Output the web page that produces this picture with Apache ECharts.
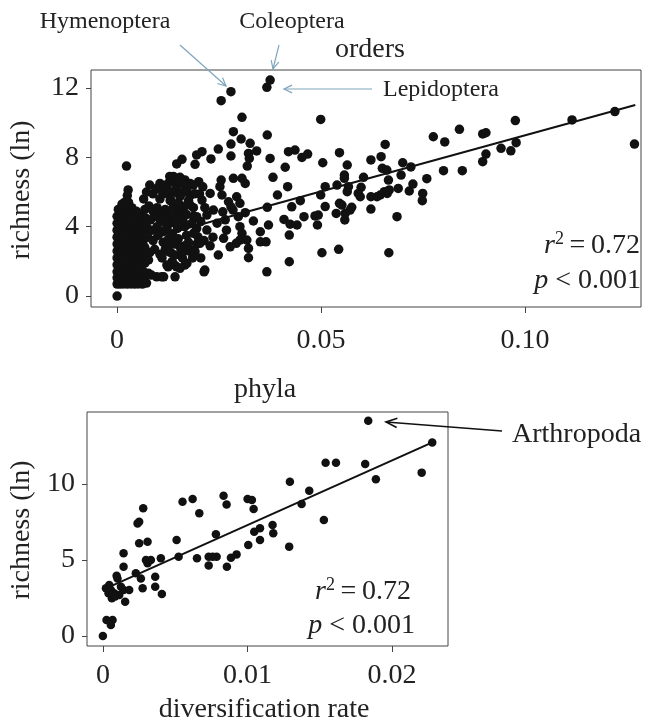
<!DOCTYPE html>
<html><head><meta charset="utf-8">
<script src="https://cdn.jsdelivr.net/npm/echarts@6/dist/echarts.min.js"></script>
<style>html,body{margin:0;padding:0;background:#fff}#c{width:653px;height:725px}</style>
</head><body><div id="c"></div>
<script>
// ---------- DATA ----------
const ordersTicksX = [0, 0.05, 0.10];
const ordersTicksY = [0, 4, 8, 12];
const phylaTicksX = [0, 0.01, 0.02];
const phylaTicksY = [0, 5, 10];

// orders: diversification rate vs richness (ln)
const ordersDense = [
 [0,0.69],[0.0008,0.69],[0.0016,0.7],[0.0025,0.69],[0.0034,0.7],[0.0043,0.69],[0.0052,0.7],[0.0062,0.69],
 [0,1.05],[0.0011,1.1],[0.0021,1.0],[0.0031,1.1],[0.0045,1.05],[0.0058,1.0],
 [0,1.4],[0.001,1.45],[0.002,1.38],[0.0032,1.5],[0.0042,1.4],[0.0055,1.35],
 [0,1.8],[0.0009,1.85],[0.0022,1.79],[0.0033,1.9],[0.0046,1.8],
 [0,2.2],[0.0012,2.2],[0.0024,2.3],[0.0036,2.15],[0.0048,2.25],[0.006,2.2],
 [0,2.6],[0.001,2.65],[0.0021,2.56],[0.0034,2.7],[0.0047,2.6],[0.0061,2.55],
 [0,3.0],[0.0011,3.05],[0.0023,2.95],[0.0035,3.1],[0.0049,3.0],[0.0063,3.05],
 [0,3.4],[0.0012,3.45],[0.0024,3.35],[0.0037,3.45],[0.005,3.4],[0.0064,3.3],
 [0,3.8],[0.001,3.85],[0.0022,3.75],[0.0034,3.9],[0.0047,3.8],[0.006,3.7],
 [0,4.2],[0.0011,4.25],[0.0023,4.15],[0.0036,4.2],[0.005,4.3],
 [0,4.6],[0.0012,4.65],[0.0024,4.55],[0.0037,4.6],
 [0.0003,5.0],[0.0014,5.05],[0.0027,4.95],
 [0.0018,5.4],[0.0025,5.8],[0.0027,6.12],[0.0023,7.5],[0,0],
 [0.0055,1.7],[0.0065,1.4],[0.0058,1.9],[0.0068,1.9],[0.0057,2.4],[0.0066,2.5],[0.0042,2.0],[0.0044,2.45],[0.0045,2.85],[0.0058,2.8],
 [0.0043,3.2],[0.0057,3.2],[0.0044,3.6],[0.0056,3.6],[0.0045,4.0],[0.0058,4.0],[0.0044,4.45],[0.0058,4.6],[0.0047,4.9],[0.0036,5.1],
 [0.0012,5.3],[0.0028,5.4],[0.0067,1.1],[0.0072,0.75],[0.0068,4.3],[0.0066,3.65]
];
const ordersNear = [
 [0.0065,5.6],[0.0072,6.0],[0.008,6.4],[0.0088,5.9],[0.0097,6.2],[0.0105,5.6],[0.0114,6.3],[0.0122,6.2],[0.013,5.5],[0.0129,6.9],[0.0138,6.0],[0.0145,6.5],[0.0152,5.9],
 [0.0068,5.0],[0.0078,5.2],[0.0088,4.9],[0.0098,5.1],[0.0108,4.8],[0.0118,5.0],[0.0128,4.7],[0.0138,5.1],[0.0148,4.8],
 [0.007,4.5],[0.0082,4.4],[0.0094,4.6],[0.0106,4.3],[0.0118,4.4],[0.013,4.2],[0.0142,4.4],
 [0.0072,4.0],[0.0085,3.8],[0.0098,4.0],[0.011,3.7],[0.0122,3.9],[0.0135,3.6],[0.0148,3.9],
 [0.0075,3.4],[0.0088,3.2],[0.01,3.5],[0.0113,3.1],[0.0126,3.3],[0.014,3.0],
 [0.0068,2.8],[0.008,2.5],[0.0077,2.08],[0.0092,2.7],[0.0105,2.4],[0.0118,2.7],[0.0132,2.5],[0.0158,2.46],[0.0182,2.65],[0.0166,2.9],
 [0.0077,1.31],[0.0084,1.21],[0.0097,1.11],[0.0109,1.11],[0.0125,1.69],[0.0141,1.79],[0.0146,1.69],[0.0166,1.79],[0.0215,1.5],[0.006,2.27],[0.0051,1.7],
 [0.0105,6.5],[0.013,6.6],[0.0138,6.9],[0.0154,6.85],[0.0166,6.7],[0.0179,6.5],[0.013,5.73],[0.0154,5.73],[0.0179,5.8],[0.0138,4.96],[0.0162,4.96],[0.0187,5.1],
 [0.0117,4.3],[0.0142,4.2],[0.0162,4.3],[0.0187,4.6],[0.0125,3.0],[0.015,3.3],[0.017,3.5],[0.0195,3.0],[0.0213,3.2],[0.0228,2.9],[0.011,2.2],[0.0135,2.0],[0.016,2.2],[0.0175,2.6],[0.0205,2.2],[0.0198,3.42],
 [0.0112,5.9],[0.0125,6.5],[0.0145,6.2],[0.0165,6.4],[0.0175,5.5],[0.019,5.9],[0.02,6.6],[0.021,6.3],[0.0158,5.2],[0.017,4.7],
 [0.0205,4.3],[0.0215,5.1],[0.0195,3.9],[0.0175,3.1],[0.016,2.6],[0.0185,2.2],[0.0235,3.4],[0.0245,4.2],[0.0265,4.4],[0.0268,3.8]
];
const ordersMid = [
 [0.0375,12.46],[0.0367,12.04],[0.0279,11.79],[0.0255,11.27],[0.0306,10.31],[0.0285,9.48],[0.0304,9.06],[0.0279,8.77],[0.0326,8.81],[0.0368,9.29],
 [0.0342,8.37],[0.0322,8.23],[0.0324,7.94],[0.0319,7.50],[0.0279,8.08],[0.0248,8.48],[0.0208,8.33],[0.0195,8.14],[0.0230,7.91],[0.0191,7.60],[0.0159,7.89],[0.0146,7.62],
 [0.0420,8.33],[0.0436,8.42],[0.0375,7.94],[0.0412,7.43],[0.0382,6.85],[0.0418,6.31],[0.0393,5.83],[0.0428,5.15],[0.0449,5.50],[0.0409,4.42],[0.0424,4.15],[0.0441,4.10],
 [0.0422,3.52],[0.0422,1.98],[0.0367,1.40],[0.0322,2.21],[0.0368,5.12],[0.0371,4.10],[0.0351,3.71],[0.0351,3.13],[0.0365,3.13],[0.0334,4.33],[0.0314,4.81],[0.0301,4.00],
 [0.0306,3.62],[0.0301,3.23],[0.0318,3.23],[0.0322,2.75],[0.0292,3.04],[0.0277,2.84],[0.0261,3.33],[0.0248,2.37],[0.0297,4.58],[0.0284,4.96],[0.0273,5.44],[0.0279,5.15],
 [0.0301,5.35],[0.0293,5.73],[0.0285,6.79],[0.0306,6.79],[0.0314,6.50],[0.0255,6.69],[0.0252,6.31],[0.0257,5.83],[0.0259,4.86],[0.0236,4.96],[0.0220,4.67],[0.0228,5.92],
 [0.0208,5.54],[0.0202,5.89],[0.0187,6.40],[0.0171,6.12],[0.0159,5.92],[0.0146,6.69],[0.0122,6.21],[0.0134,5.44],[0.0150,5.35],[0.0179,5.25],[0.0195,4.58],[0.0183,4.20],
 [0.0187,3.62],[0.0203,3.04],[0.0191,2.56],[0.0154,2.84],[0.0142,2.37],[0.0171,1.89],[0.0154,1.60],[0.0142,1.11],[0.0213,1.40],[0.0114,1.11],[0.0122,1.79],[0.0126,2.56],
 [0.0138,3.42],[0.0118,3.81],[0.0114,4.58],[0.0154,4.58],[0.0166,4.00],[0.0220,3.81]
];
const ordersRight = [
 [0.0499,10.19],[0.1268,8.77],[0.1220,10.64],[0.1115,10.16],[0.0976,10.12],[0.0978,8.85],[0.0965,8.38],[0.0941,8.52],[0.0904,8.19],[0.0896,7.75],
 [0.0896,9.35],[0.0904,9.42],[0.0839,9.62],[0.0803,8.89],[0.0775,9.19],[0.0846,7.23],[0.0800,7.23],[0.0759,6.77],[0.0749,5.92],[0.0748,5.50],
 [0.0720,7.45],[0.0700,7.69],[0.0696,6.98],[0.0689,6.21],[0.0686,4.58],[0.0716,6.06],[0.0725,6.46],[0.0666,2.50],[0.0665,6.69],[0.0667,6.12],
 [0.0657,8.75],[0.0647,8.04],[0.0650,7.37],[0.0661,7.27],[0.0662,5.92],[0.0655,6.02],[0.0645,5.83],[0.0637,5.73],[0.0622,7.85],[0.0622,5.73],
 [0.0622,5.02],[0.0604,6.85],[0.0598,6.27],[0.0591,5.92],[0.0596,5.73],[0.0571,4.96],[0.0575,5.12],[0.0558,4.39],[0.0559,4.77],[0.0545,5.35],
 [0.0551,5.25],[0.0537,4.77],[0.0564,6.02],[0.0567,6.31],[0.0557,6.98],[0.0557,6.79],[0.0564,7.56],[0.0545,8.27],[0.0539,6.40],[0.0510,6.31],
 [0.0510,5.16],[0.0493,4.67],[0.0485,4.62],[0.0491,4.10],[0.0499,5.83],[0.0504,7.69],[0.0502,2.50],[0.0543,2.70],[0.0467,8.19],[0.0453,8.00],[0.0458,4.58]
];
const ordersFit = [[0, 2.80], [0.127, 11.02]];

// phyla
const phylaPoints = [
 [0,0],[0.00025,1.05],[0.00067,1.05],[0.00055,0.72],[0.00021,3.14],[0.00044,3.36],[0.00062,2.48],[0.00078,2.81],[0.00101,3.79],[0.00113,2.7],
 [0.00143,3.03],[0.00154,2.26],[0.00143,4.56],[0.00143,5.44],[0.00182,3.03],[0.00228,4.12],[0.00251,6.1],[0.00263,3.79],[0.00275,3.14],[0.0024,7.41],
 [0.00251,7.52],[0.00279,8.4],[0.00309,6.2],[0.00298,5.0],[0.00309,4.78],[0.00332,5.0],[0.00362,3.9],[0.00362,3.24],[0.00408,2.76],[0.00401,5.11],
 [0.0051,6.32],[0.00524,5.22],[0.00551,8.84],[0.00621,9.01],[0.00651,5.11],[0.00667,8.07],[0.00732,5.22],[0.00732,4.63],[0.0076,5.22],[0.00787,5.22],
 [0.00782,6.69],[0.00835,9.23],[0.00856,8.66],[0.00858,4.56],[0.00886,5.15],[0.00925,5.37],[0.01006,5.99],[0.01001,9.01],[0.01031,8.95],[0.01043,8.36],
 [0.01047,6.86],[0.01087,7.09],[0.01087,6.32],[0.01174,7.3],[0.01179,6.76],[0.01836,14.16],[0.02279,12.74],[0.02206,10.75],[0.01889,10.31],[0.01815,11.32],
 [0.01613,11.4],[0.01541,11.4],[0.01428,9.56],[0.01375,8.68],[0.01294,10.15],[0.01529,7.63],[0.01289,5.88],[0.00055,3.03],[0.00085,2.59],[0.00039,2.81],
 [0.00125,3.24],[0.00095,3.97]
];
const phylaFit = [[0.0001, 3.08], [0.0228, 12.74]];

// ---------- CHART ----------
const FONT = "'Liberation Serif','Times New Roman',serif";
const TXT = '#222';
const chart = echarts.init(document.getElementById('c'), null, {renderer: 'canvas'});

function xAx(grid, min, max, ticks, fmt, margin) {
  return {type:'value', gridIndex:grid, min, max, splitLine:{show:false},
    axisLine:{show:false, onZero:false},
    axisTick:{show:true, inside:false, length:6, lineStyle:{color:'#444'}, customValues:ticks},
    axisLabel:{margin:margin, fontSize:28, fontFamily:FONT, color:TXT, customValues:ticks, formatter:fmt}};
}
function yAx(grid, min, max, ticks) {
  return {type:'value', gridIndex:grid, min, max, splitLine:{show:false},
    axisLine:{show:false, onZero:false},
    axisTick:{show:true, inside:false, length:5, lineStyle:{color:'#444'}, customValues:ticks},
    axisLabel:{margin:12, fontSize:28, fontFamily:FONT, color:TXT, customValues:ticks, formatter:v=>String(Math.round(v))}};
}
const fmtX = v => v === 0 ? '0' : v.toFixed(2);

function arrow(x1,y1,x2,y2,color,len,ang,w) {
  const dx=x2-x1, dy=y2-y1, L=Math.hypot(dx,dy), ux=dx/L, uy=dy/L;
  const c=Math.cos(ang), s=Math.sin(ang);
  const r1=[ux*c-uy*s, ux*s+uy*c], r2=[ux*c+uy*s, -ux*s+uy*c];
  return [
    {type:'line', silent:true, shape:{x1,y1,x2,y2}, style:{stroke:color, lineWidth:w}},
    {type:'polyline', silent:true, shape:{points:[[x2-len*r1[0], y2-len*r1[1]],[x2,y2],[x2-len*r2[0], y2-len*r2[1]]]}, style:{stroke:color, lineWidth:w, fill:null}}
  ];
}
function txt(x,y,text,size,align,extra) {
  return Object.assign({type:'text', x, y, silent:true, style:{text, fontSize:size, fontFamily:FONT, fill:TXT, align:align||'center', verticalAlign:'middle'}}, extra||{});
}
function rtxt(x,y,text,size) {
  return {type:'text', x, y, silent:true, style:{text, fontSize:size, fontFamily:FONT, fill:TXT, align:'right', verticalAlign:'middle',
    rich:{
      i:{fontStyle:'italic', fontSize:size, fontFamily:FONT, fill:TXT, lineHeight:30, verticalAlign:'bottom'},
      n:{fontSize:size, fontFamily:FONT, fill:TXT, lineHeight:30, verticalAlign:'bottom'},
      s:{fontSize:18, fontFamily:FONT, fill:TXT, lineHeight:18, verticalAlign:'top'}
    }}};
}
const blue = '#7ea6bd';

const option = {
  animation:false,
  backgroundColor:'#fff',
  grid:[
    {left:91, top:70, width:550, height:237, show:true, borderColor:'#444', borderWidth:1, backgroundColor:'transparent'},
    {left:87, top:412, width:361, height:234, show:true, borderColor:'#444', borderWidth:1, backgroundColor:'transparent'}
  ],
  xAxis:[ xAx(0,-0.0064,0.1284,ordersTicksX,fmtX,20), xAx(1,-0.0011,0.02388,phylaTicksX,fmtX,16) ],
  yAxis:[ yAx(0,-0.63,13.04,ordersTicksY), yAx(1,-0.66,14.74,phylaTicksY) ],
  series:[
    {type:'scatter', xAxisIndex:0, yAxisIndex:0, symbolSize:9.5, itemStyle:{color:'#111', opacity:1}, data:ordersDense.concat(ordersNear, ordersMid, ordersRight)},
    {type:'line', xAxisIndex:0, yAxisIndex:0, symbol:'none', lineStyle:{color:'#111', width:2}, data:ordersFit, z:3},
    {type:'scatter', xAxisIndex:1, yAxisIndex:1, symbolSize:8.5, itemStyle:{color:'#111', opacity:1}, data:phylaPoints},
    {type:'line', xAxisIndex:1, yAxisIndex:1, symbol:'none', lineStyle:{color:'#111', width:2}, data:phylaFit, z:3}
  ],
  graphic:[
    txt(105,22,'Hymenoptera',24),
    txt(292,22,'Coleoptera',24),
    txt(370,50,'orders',28),
    txt(383,90,'Lepidoptera',24,'left'),
    ...arrow(180,45,226,86,blue,9,0.45,1.2),
    ...arrow(279,45,273,69,blue,9,0.45,1.2),
    ...arrow(372,89,284,89,blue,9,0.45,1.2),
    txt(22,190,'richness (ln)',28,'center',{rotation:Math.PI/2}),
    rtxt(640,245,'{i|r}{s|2}{n|\u2009=\u20090.72}',28),
    rtxt(641,280,'{i|p}{n| < 0.001}',28),
    txt(265,390,'phyla',28),
    txt(512,435,'Arthropoda',28,'left'),
    ...arrow(502,431,386,422,'#111',12,0.4,1.6),
    txt(22,530,'richness (ln)',28,'center',{rotation:Math.PI/2}),
    rtxt(411,591,'{i|r}{s|2}{n|\u2009=\u20090.72}',28),
    rtxt(415,625,'{i|p}{n| < 0.001}',28),
    txt(264,710,'diversification rate',28)
  ]
};
chart.setOption(option);
</script></body></html>
